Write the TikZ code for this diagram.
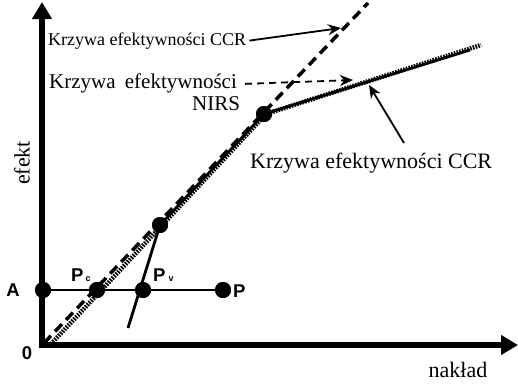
\documentclass[tikz,border=0pt]{standalone}
\usepackage{fontspec}
\setmainfont{Liberation Serif}
\setsansfont{Liberation Sans}
\usetikzlibrary{arrows.meta}
\begin{document}
\begin{tikzpicture}[x=1pt,y=-1pt,
  axis/.style={line width=6pt,line join=miter,{Triangle[length=17pt,width=19pt]}-{Triangle[length=17pt,width=19pt]}},
  dot/.style={circle,fill=black,inner sep=0pt,minimum size=16pt},
  ptlabel/.style={font=\sffamily\bfseries\fontsize{18.5}{19}\selectfont,inner sep=0pt},
  txt/.style={inner sep=0pt},
  ptr/.style={line width=1.8pt,-{Stealth[length=13pt,width=11pt]}},
  ccrline/.style={line width=3.5pt,dash pattern=on 10pt off 6pt},
  dotline/.style={line width=4.5pt,dash pattern=on 1.6pt off 1.2pt},
  solidline/.style={line width=2.8pt,line join=round}]
\useasboundingbox (0,0) rectangle (518,383);
% axes
\coordinate (ytop) at (42,2);
\coordinate (O) at (42,345);
\coordinate (xend) at (518,345);
\draw[axis] (ytop) -- (O) -- (xend);
% key coordinates
\coordinate (d0) at (44,343);
\coordinate (d1) at (368,3);
\coordinate (s0) at (128,328);
\coordinate (o0) at (51,344);
\coordinate (nEnd) at (470,50);
\coordinate (oEnd) at (481,45);
% points
\node[dot] (A) at (43,290) {};
\node[dot] (Pc) at (97,290) {};
\node[dot] (Pv) at (143,290) {};
\node[dot] (P) at (223,290) {};
\node[dot] (L) at (160,225) {};
\node[dot] (U) at (264,114) {};
\draw[line width=1.2pt] (A) -- (P);
% frontiers
\draw[dotline] (o0) -- ([xshift=2pt]U.center) -- (oEnd);
\draw[ccrline] (d0) -- (d1);
\draw[solidline] (s0) -- (L.center) -- (U.center) -- (nEnd);
% redraw dots on top
\foreach \n in {A,Pc,Pv,P,L,U} \fill (\n) circle (8pt);
% point labels
\node[ptlabel] (lA) at (13,290) {A};
\node[ptlabel] (l0) at (27,353) {0};
\node[ptlabel,anchor=base west] (lP) at (233,297) {P};
\node[ptlabel,anchor=base west] (lPc) at (71,281) {P\hspace{2pt}{\fontsize{9}{9}\selectfont c}};
\node[ptlabel,anchor=base west] (lPv) at (153,281) {P\hspace{3pt}{\fontsize{9}{9}\selectfont v}};
% texts
\node[txt,anchor=base west,font=\fontsize{18}{20}\selectfont] (t1) at (48,45) {Krzywa efektywności CCR};
\node[txt,anchor=base west,font=\fontsize{21}{23}\selectfont] (t2) at (49,88) {Krzywa\hspace{4pt} efektywności};
\node[txt,anchor=base west,font=\fontsize{21}{23}\selectfont] (t3) at (192,110) {NIRS};
\node[txt,anchor=base west,font=\fontsize{22}{24}\selectfont] (t4) at (250,168) {Krzywa efektywności CCR};
\node[txt,rotate=90,font=\fontsize{22}{24}\selectfont] (ef) at (22,163) {efekt};
\node[txt,anchor=base,font=\fontsize{22}{24}\selectfont] (nk) at (458,377) {nakład};
% pointers
\coordinate (a1) at (341,28);
\coordinate (a2) at (353,80);
\coordinate (a3) at (369,85);
\coordinate (b3) at (404,143);
\draw[ptr] ([xshift=3pt]t1.east) -- (a1);
\draw[ptr,dash pattern=on 7pt off 5pt] ([xshift=8pt,yshift=-1pt]t2.east) -- (a2);
\draw[ptr] (b3) -- (a3);
\end{tikzpicture}
\end{document}
